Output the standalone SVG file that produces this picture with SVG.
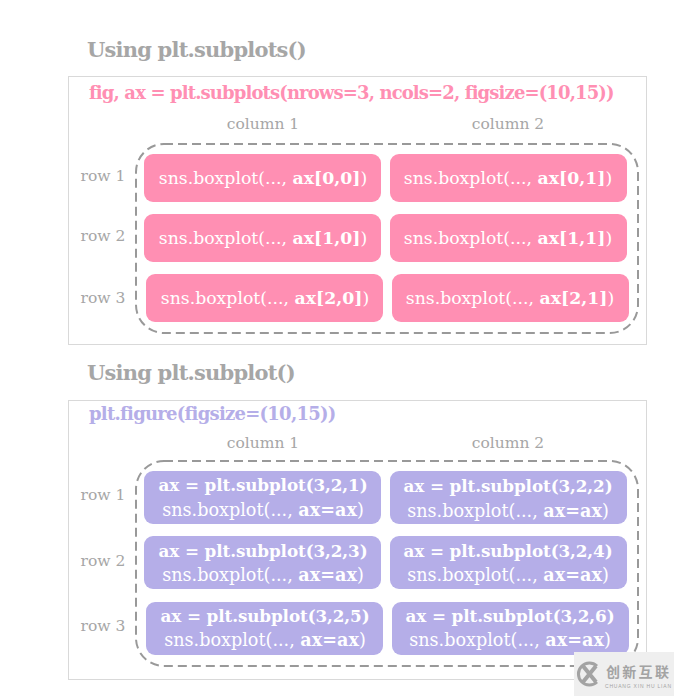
<svg xmlns="http://www.w3.org/2000/svg" width="674" height="696" viewBox="0 0 674 696">
<style>
text{font-family:"DejaVu Serif","Liberation Serif",serif}
.h{font-size:21px;font-weight:bold;fill:#a6a6a6;letter-spacing:-.8px}
.f{fill:none;stroke:#d9d9d9;stroke-width:1}
.d{fill:none;stroke:#999;stroke-width:2;stroke-dasharray:9 5}
.l{font-size:15.500px;fill:#a6a6a6;text-anchor:middle}
.p{fill:#ff8fb3}.v{fill:#b5aee8}
.t{font-size:17.300px;fill:#fff;text-anchor:middle}
.s{font-size:17.600px;fill:#fff;text-anchor:middle}
.u{font-size:16.800px;font-weight:bold;fill:#fff;text-anchor:middle;letter-spacing:-.1px}
.b{font-weight:bold}
</style>
<rect width="674" height="696" fill="#fff"/>
<text class="h" x="87" y="57">Using plt.subplots()</text>
<text class="h" x="87" y="380">Using plt.subplot()</text>
<rect class="f" x="68.500" y="76.500" width="578" height="268"/>
<rect class="f" x="68.500" y="400.500" width="578" height="279"/>
<text x="89" y="99" font-size="18" font-weight="bold" fill="#ff8fb3" letter-spacing="-.87">fig, ax = plt.subplots(nrows=3, ncols=2, figsize=(10,15))</text>
<text x="89" y="420" font-size="18" font-weight="bold" fill="#b5aee8" letter-spacing="-.74">plt.figure(figsize=(10,15))</text>
<g id="labels">
<text class="l" x="263" y="129">column 1</text><text class="l" x="508" y="129">column 2</text>
<text class="l" x="103" y="181">row 1</text><text class="l" x="103" y="241">row 2</text><text class="l" x="103" y="303">row 3</text>
<text class="l" x="263" y="448">column 1</text><text class="l" x="508" y="448">column 2</text>
<text class="l" x="103" y="500">row 1</text><text class="l" x="103" y="566">row 2</text><text class="l" x="103" y="631">row 3</text>
</g>
<g id="connectors">
<rect class="d" x="136" y="144" width="502" height="189" rx="28"/>
<rect class="d" x="136" y="461" width="502" height="205" rx="28"/>
</g>
<g id="n1"><rect class="p" x="144" y="154" width="237" height="48" rx="9"/><text class="t" x="263" y="184">sns.boxplot(..., <tspan class="b">ax[0,0]</tspan>)</text></g>
<g id="n2"><rect class="p" x="390" y="154" width="237" height="48" rx="9"/><text class="t" x="508" y="184">sns.boxplot(..., <tspan class="b">ax[0,1]</tspan>)</text></g>
<g id="n3"><rect class="p" x="144" y="214" width="237" height="48" rx="9"/><text class="t" x="263" y="244">sns.boxplot(..., <tspan class="b">ax[1,0]</tspan>)</text></g>
<g id="n4"><rect class="p" x="390" y="214" width="237" height="48" rx="9"/><text class="t" x="508" y="244">sns.boxplot(..., <tspan class="b">ax[1,1]</tspan>)</text></g>
<g id="n5"><rect class="p" x="146" y="274" width="237" height="48" rx="9"/><text class="t" x="265" y="304">sns.boxplot(..., <tspan class="b">ax[2,0]</tspan>)</text></g>
<g id="n6"><rect class="p" x="392" y="274" width="237" height="48" rx="9"/><text class="t" x="510" y="304">sns.boxplot(..., <tspan class="b">ax[2,1]</tspan>)</text></g>
<g id="n7"><rect class="v" x="144" y="471" width="237" height="53" rx="9"/><text class="u" x="263" y="491">ax = plt.subplot(3,2,1)</text><text class="s" x="263" y="516">sns.boxplot(..., <tspan class="b">ax=ax</tspan>)</text></g>
<g id="n8"><rect class="v" x="390" y="471" width="237" height="53" rx="9"/><text class="u" x="508" y="492">ax = plt.subplot(3,2,2)</text><text class="s" x="508" y="517">sns.boxplot(..., <tspan class="b">ax=ax</tspan>)</text></g>
<g id="n9"><rect class="v" x="144" y="536" width="237" height="53" rx="9"/><text class="u" x="263" y="557">ax = plt.subplot(3,2,3)</text><text class="s" x="263" y="581">sns.boxplot(..., <tspan class="b">ax=ax</tspan>)</text></g>
<g id="n10"><rect class="v" x="390" y="536" width="237" height="53" rx="9"/><text class="u" x="508" y="557">ax = plt.subplot(3,2,4)</text><text class="s" x="508" y="581">sns.boxplot(..., <tspan class="b">ax=ax</tspan>)</text></g>
<g id="n11"><rect class="v" x="146" y="602" width="237" height="53" rx="9"/><text class="u" x="265" y="622">ax = plt.subplot(3,2,5)</text><text class="s" x="265" y="646">sns.boxplot(..., <tspan class="b">ax=ax</tspan>)</text></g>
<g id="n12"><rect class="v" x="392" y="602" width="237" height="53" rx="9"/><text class="u" x="510" y="622">ax = plt.subplot(3,2,6)</text><text class="s" x="510" y="646">sns.boxplot(..., <tspan class="b">ax=ax</tspan>)</text></g>
<g id="watermark">
<rect x="574" y="652" width="100" height="44" fill="#efefef"/>
<path d="M597 666A11 11 0 1 0 597 682" fill="none" stroke="#a3a3a3" stroke-width="3"/>
<path d="M583 666L596 682M596 666L583 682" fill="none" stroke="#a3a3a3" stroke-width="4"/>
<text x="606" y="677" font-size="14" font-weight="bold" fill="#a3a3a3" letter-spacing="2.300" style='font-family:"Noto Sans CJK SC",sans-serif'>创新互联</text>
<text x="605" y="688" font-size="5" fill="#a3a3a3" textLength="66" style='font-family:"Liberation Sans",sans-serif'>CHUANG XIN HU LIAN</text>
</g>
</svg>
